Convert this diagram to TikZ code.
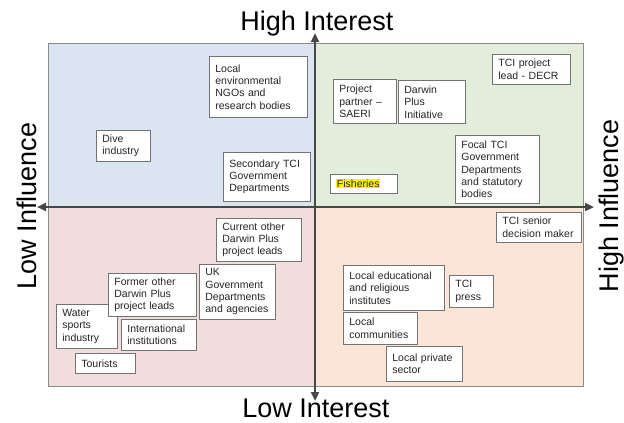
\documentclass[tikz,border=0pt]{standalone}
\usepackage{fontspec}
\setmainfont{Liberation Sans}
\usetikzlibrary{arrows.meta}
\definecolor{QuadBlue}{RGB}{219,228,241}
\definecolor{QuadGreen}{RGB}{227,237,219}
\definecolor{QuadPink}{RGB}{242,221,221}
\definecolor{QuadOrange}{RGB}{251,229,214}
\def\QuadEdge{black!45}
\def\AxisGrey{black!72}

\begin{document}
\begin{tikzpicture}
    [x=1pt,y=-1pt,
     quad/.style={draw=\QuadEdge,line width=0.8pt},
     stake/.style={draw=black!55,line width=0.7pt,fill=white,anchor=north west,align=left,
       inner xsep=6pt,inner ysep=3pt,text=black!85,font=\fontsize{10.5}{12.4}\selectfont},
     axis/.style={{Triangle[length=9pt,width=8pt]}-{Triangle[length=9pt,width=8pt]},line width=2.6pt,\AxisGrey},
     axlabel/.style={font=\fontsize{27}{30}\selectfont,anchor=base,inner sep=0pt},
    ]
    \useasboundingbox (0,0) rectangle (624,423);
    % quadrants
    \fill[QuadBlue] (48,43) rectangle (315,207);
    \fill[QuadGreen] (315,43) rectangle (583,207);
    \fill[QuadPink] (48,207) rectangle (315,386);
    \fill[QuadOrange] (315,207) rectangle (583,386);
    \draw[quad] (48,43) rectangle (583,386);

    % axes
    \coordinate (top) at (315,33);
    \coordinate (bot) at (315,401);
    \coordinate (left) at (37,207);
    \coordinate (right) at (594,207);
    \draw[axis] (bot) -- (top);
    \draw[axis] (left) -- (right);

    \node[axlabel] (hi) at (317,30) {High Interest};
    \node[axlabel] (li) at (316,417) {Low Interest};
    \node[axlabel,rotate=90] (lf) at (36,206) {Low Influence};
    \node[axlabel,rotate=90] (hf) at (618,206) {High Influence};

    % high interest, low influence
    \node[stake,text width=86pt,minimum height=61pt] (ngo) at (209,56) {Local\\environmental\\NGOs and\\research bodies};
    \node[stake,text width=42pt,minimum height=31pt] (dive) at (96,130) {Dive\\industry};
    \node[stake,text width=75pt,minimum height=49pt] (sec) at (223,152) {Secondary TCI\\Government\\Departments};

    % high interest, high influence
    \node[stake,text width=66pt,minimum height=30pt] (decr) at (492,54) {TCI project\\lead - DECR};
    \node[stake,text width=51pt,minimum height=44pt] (saeri) at (333,79) {Project\\partner –\\SAERI};
    \node[stake,text width=55pt,minimum height=43pt] (dpi) at (398,80) {Darwin\\Plus\\Initiative};
    \node[stake,text width=72pt,minimum height=68pt] (focal) at (455,135) {Focal TCI\\Government\\Departments\\and statutory\\bodies};
    \node[stake,text width=55pt,minimum height=19pt] (fish) at (330,174) {{\setlength{\fboxsep}{0.6pt}\colorbox{yellow}{Fisheries}}};

    % low interest, low influence
    \node[stake,text width=73pt,minimum height=43pt] (curr) at (216,218) {Current other\\Darwin Plus\\project leads};
    \node[stake,text width=64pt,minimum height=55pt] (ukgov) at (199,264) {UK\\Government\\Departments\\and agencies};
    \node[stake,text width=49pt,minimum height=44pt] (water) at (56,304) {Water\\sports\\industry};
    \node[stake,text width=76pt,minimum height=43pt] (former) at (108,273) {Former other\\Darwin Plus\\project leads};
    \node[stake,text width=63pt,minimum height=31pt] (intl) at (121,319) {International\\institutions};
    \node[stake,text width=48pt,minimum height=20pt] (tour) at (75,353) {Tourists};

    % low interest, high influence
    \node[stake,text width=73pt,minimum height=30pt] (senior) at (496,212) {TCI senior\\decision maker};
    \node[stake,text width=89pt,minimum height=45pt] (edu) at (343,265) {Local educational\\and religious\\institutes};
    \node[stake,text width=32pt,minimum height=32pt] (press) at (449,275) {TCI\\press};
    \node[stake,text width=62pt,minimum height=32pt] (comm) at (343,312) {Local\\communities};
    \node[stake,text width=64pt,minimum height=35pt] (priv) at (386,346) {Local private\\sector};
\end{tikzpicture}
\end{document}
